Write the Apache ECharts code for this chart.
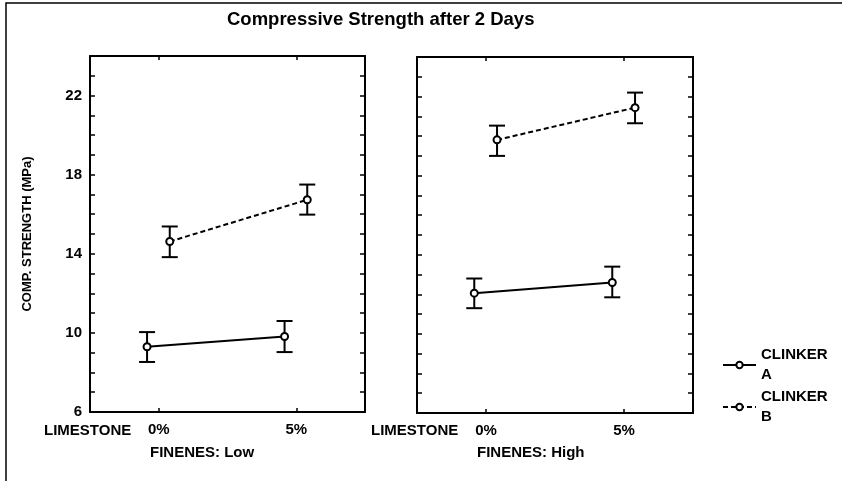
<!DOCTYPE html>
<html>
<head>
<meta charset="utf-8">
<script src="https://cdn.jsdelivr.net/npm/echarts@6/dist/echarts.min.js"></script>
<style>html,body{margin:0;padding:0;background:#fff}#c{width:842px;height:481px}</style>
</head>
<body>
<div id="c"></div>
<script>
// ---- data ----
const categories = ['0%', '5%'];
const panelNames = ['FINENES: Low', 'FINENES: High'];
const seriesNames = ['CLINKER A', 'CLINKER B'];
// Fineness Low
const aLowMean = [9.3, 9.82];
const aLowLo   = [8.53, 9.03];
const aLowHi   = [10.04, 10.6];
const bLowMean = [14.62, 16.73];
const bLowLo   = [13.83, 15.98];
const bLowHi   = [15.38, 17.5];
// Fineness High
const aHighMean = [12.06, 12.6];
const aHighLo   = [11.3, 11.85];
const aHighHi   = [12.8, 13.4];
const bHighMean = [19.81, 21.44];
const bHighLo   = [19.0, 20.65];
const bHighHi   = [20.53, 22.2];
const yTicks = [6, 10, 14, 18, 22];

// ---- layout / style constants ----
const FONT = "'Liberation Sans', Arial, sans-serif";
const DODGE = [-0.085, 0.08];
const grids = [
  {left: 90, top: 56, width: 275, height: 356},
  {left: 417, top: 57, width: 276, height: 356}
];
const panelData = [
  {a: [aLowMean, aLowLo, aLowHi], b: [bLowMean, bLowLo, bLowHi]},
  {a: [aHighMean, aHighLo, aHighHi], b: [bHighMean, bHighLo, bHighHi]}
];

const axisLine = {show: true, onZero: false, lineStyle: {color: '#000', width: 2}};
const xAxes = [], yAxes = [], lineSeries = [], errSeries = [];
grids.forEach((g, gi) => {
  xAxes.push({
    gridIndex: gi, type: 'category', data: categories, position: 'bottom',
    boundaryGap: true, axisLine,
    axisTick: {show: true, inside: true, alignWithLabel: true, length: 4, lineStyle: {width: 1.5, color: '#000'}},
    axisLabel: {color: '#000', fontFamily: FONT, fontWeight: 'bold', fontSize: 15, margin: 10}
  });
  xAxes.push({
    gridIndex: gi, type: 'category', data: categories, position: 'top',
    boundaryGap: true, axisLine,
    axisTick: {show: true, inside: true, alignWithLabel: true, length: 4, lineStyle: {width: 1.5, color: '#000'}},
    axisLabel: {show: false}
  });
  xAxes.push({gridIndex: gi, type: 'value', min: -0.5, max: 1.5, show: false});
  const yBase = {
    gridIndex: gi, type: 'value', min: 6, max: 24, interval: 1,
    axisLine, splitLine: {show: false},
    axisTick: {show: true, inside: true, length: 5, lineStyle: {width: 1.5, color: '#000'}}
  };
  yAxes.push(Object.assign({}, yBase, {
    position: 'left',
    axisLabel: {
      show: gi === 0, color: '#000', fontFamily: FONT, fontWeight: 'bold', fontSize: 15, margin: 8,
      formatter: v => yTicks.indexOf(v) >= 0 ? String(v) : ''
    },
    name: gi === 0 ? 'COMP. STRENGTH (MPa)' : '',
    nameLocation: 'middle', nameGap: 56, nameRotate: 90,
    nameTextStyle: {color: '#000', fontFamily: FONT, fontWeight: 'bold', fontSize: 13}
  }));
  yAxes.push(Object.assign({}, yBase, {position: 'right', axisLabel: {show: false}}));

  const xi = gi * 3 + 2, yi = gi * 2;
  ['a', 'b'].forEach((k, si) => {
    const [mean, lo, hi] = panelData[gi][k];
    lineSeries.push({
      type: 'line', name: seriesNames[si], xAxisIndex: xi, yAxisIndex: yi, z: 5,
      data: mean.map((m, i) => [i + DODGE[si], m]),
      symbol: 'emptyCircle', symbolSize: 7,
      itemStyle: {color: '#000', borderColor: '#000', borderWidth: 1.8},
      lineStyle: {color: '#000', width: 2, type: si === 0 ? 'solid' : [5, 3]},
      animation: false
    });
    errSeries.push({
      type: 'custom', name: seriesNames[si] + ' error', xAxisIndex: xi, yAxisIndex: yi, z: 2,
      data: mean.map((m, i) => [i + DODGE[si], lo[i], hi[i]]),
      encode: {x: 0, y: [1, 2]},
      renderItem: (params, api) => {
        const x = api.value(0);
        const p1 = api.coord([x, api.value(1)]);
        const p2 = api.coord([x, api.value(2)]);
        const hw = 8;
        const st = {stroke: '#000', lineWidth: 2};
        return {type: 'group', children: [
          {type: 'line', shape: {x1: p1[0], y1: p1[1], x2: p2[0], y2: p2[1]}, style: st},
          {type: 'line', shape: {x1: p1[0] - hw, y1: p1[1], x2: p1[0] + hw, y2: p1[1]}, style: st},
          {type: 'line', shape: {x1: p2[0] - hw, y1: p2[1], x2: p2[0] + hw, y2: p2[1]}, style: st}
        ]};
      }
    });
  });
});

const legendText = {color: '#000', fontFamily: FONT, fontWeight: 'bold', fontSize: 15, lineHeight: 20, padding: [20, 0, 0, 0]};
const chart = echarts.init(document.getElementById('c'));
chart.setOption({
  animation: false,
  backgroundColor: '#fff',
  title: {
    text: 'Compressive Strength after 2 Days', left: 222, top: 5,
    textStyle: {color: '#000', fontFamily: FONT, fontWeight: 'bold', fontSize: 18.5}
  },
  legend: [
    {data: [seriesNames[0]], left: 722, top: 335, padding: 0, itemWidth: 33, itemHeight: 8,
     formatter: n => n.replace(' ', '\n'), textStyle: legendText, selectedMode: false},
    {data: [seriesNames[1]], left: 722, top: 377, padding: 0, itemWidth: 33, itemHeight: 8,
     formatter: n => n.replace(' ', '\n'), textStyle: legendText, selectedMode: false}
  ],
  grid: grids,
  xAxis: xAxes,
  yAxis: yAxes,
  series: lineSeries.concat(errSeries),
  graphic: [
    {type: 'polyline', shape: {points: [[6, 481], [6, 3], [842, 3]]}, style: {stroke: '#000', lineWidth: 1.5, fill: null}},
    ...grids.map((g, gi) => ({
      type: 'text', left: g.left + 42 - 88, top: 423,
      style: {text: 'LIMESTONE', fill: '#000', font: 'bold 15px ' + FONT}
    })),
    ...grids.map((g, gi) => ({
      type: 'text', left: g.left + 112 - 52, top: 445,
      style: {text: panelNames[gi], fill: '#000', font: 'bold 15px ' + FONT}
    }))
  ]
});
</script>
</body>
</html>
